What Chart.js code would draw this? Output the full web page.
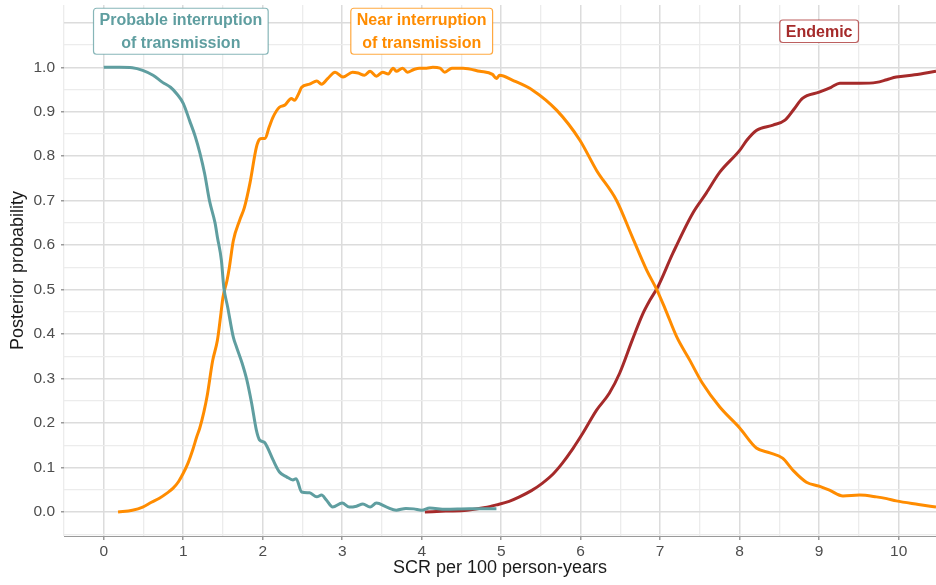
<!DOCTYPE html>
<html>
<head>
<meta charset="utf-8">
<script src="https://cdn.jsdelivr.net/npm/chart.js@4.4.1/dist/chart.umd.min.js"></script>
<style>
  html, body { margin: 0; padding: 0; background: #ffffff; }
  #wrap { width: 936px; height: 585px; }
</style>
</head>
<body>
<div id="wrap"><canvas id="chart"></canvas></div>
<script>
// SCR per 100 person-years vs posterior probability, one pair of arrays per class
const probX = [0, 0.2, 0.36, 0.49, 0.62, 0.74, 0.84, 0.92, 1.0, 1.08, 1.15, 1.21, 1.27, 1.33, 1.4, 1.43, 1.48, 1.51, 1.56, 1.63, 1.67, 1.74, 1.8, 1.86, 1.92, 1.96, 2.02, 2.06, 2.13, 2.21, 2.3, 2.38, 2.42, 2.49, 2.59, 2.68, 2.74, 2.8, 2.88, 3.0, 3.09, 3.18, 3.26, 3.35, 3.43, 3.56, 3.68, 3.8, 3.9, 4.0, 4.1, 4.3, 4.6, 4.94];
const probY = [1.0, 1.0, 0.999, 0.993, 0.982, 0.966, 0.955, 0.94, 0.919, 0.88, 0.845, 0.807, 0.76, 0.7, 0.65, 0.618, 0.566, 0.506, 0.46, 0.393, 0.371, 0.335, 0.297, 0.245, 0.184, 0.162, 0.157, 0.145, 0.117, 0.09, 0.079, 0.072, 0.075, 0.045, 0.043, 0.034, 0.038, 0.027, 0.011, 0.02, 0.011, 0.013, 0.018, 0.011, 0.02, 0.011, 0.004, 0.008, 0.007, 0.004, 0.009, 0.006, 0.007, 0.007];

const nearX = [0.18, 0.36, 0.49, 0.6, 0.7, 0.8, 0.87, 0.94, 1.0, 1.06, 1.12, 1.17, 1.21, 1.26, 1.3, 1.37, 1.43, 1.47, 1.5, 1.55, 1.58, 1.63, 1.71, 1.77, 1.84, 1.92, 1.96, 1.99, 2.03, 2.08, 2.13, 2.21, 2.28, 2.36, 2.4, 2.45, 2.49, 2.59, 2.68, 2.74, 2.82, 2.91, 3.01, 3.13, 3.2, 3.28, 3.35, 3.43, 3.51, 3.58, 3.64, 3.68, 3.76, 3.82, 3.9, 3.97, 4.06, 4.14, 4.23, 4.29, 4.38, 4.52, 4.73, 4.89, 4.94, 4.98, 5.14, 5.4, 5.7, 5.99, 6.2, 6.45, 6.65, 6.83, 6.96, 7.06, 7.21, 7.37, 7.53, 7.75, 8.0, 8.21, 8.38, 8.54, 8.67, 8.84, 9.0, 9.13, 9.3, 9.51, 9.72, 9.85, 9.97, 10.25, 10.47];
const nearY = [0.0, 0.004, 0.011, 0.022, 0.031, 0.043, 0.053, 0.068, 0.087, 0.11, 0.14, 0.169, 0.19, 0.225, 0.26, 0.34, 0.386, 0.44, 0.483, 0.52, 0.55, 0.61, 0.656, 0.685, 0.74, 0.82, 0.838, 0.84, 0.84, 0.865, 0.888, 0.91, 0.915, 0.93, 0.926, 0.94, 0.955, 0.962, 0.969, 0.962, 0.975, 0.989, 0.978, 0.989, 0.987, 0.982, 0.991, 0.98, 0.989, 0.985, 0.998, 0.991, 0.998, 0.989, 0.995, 0.998, 0.998, 1.0, 0.998, 0.989, 0.998, 0.998, 0.991, 0.984, 0.975, 0.982, 0.971, 0.948, 0.903, 0.836, 0.768, 0.701, 0.618, 0.544, 0.499, 0.458, 0.393, 0.342, 0.29, 0.236, 0.189, 0.144, 0.133, 0.121, 0.094, 0.067, 0.058, 0.049, 0.036, 0.038, 0.034, 0.03, 0.025, 0.017, 0.011];

const endX = [4.04, 4.3, 4.57, 4.8, 4.94, 5.1, 5.23, 5.38, 5.52, 5.65, 5.77, 5.9, 6.03, 6.2, 6.36, 6.49, 6.65, 6.78, 6.87, 6.97, 7.16, 7.41, 7.58, 7.75, 8.0, 8.09, 8.21, 8.42, 8.57, 8.68, 8.79, 9.0, 9.15, 9.26, 9.51, 9.72, 9.85, 9.97, 10.2, 10.47];
const endY = [0.0, 0.002, 0.004, 0.01, 0.016, 0.024, 0.034, 0.048, 0.065, 0.085, 0.11, 0.142, 0.178, 0.229, 0.267, 0.312, 0.387, 0.445, 0.476, 0.506, 0.582, 0.672, 0.717, 0.764, 0.813, 0.836, 0.858, 0.87, 0.881, 0.905, 0.93, 0.944, 0.955, 0.964, 0.964, 0.966, 0.972, 0.978, 0.983, 0.991];

// label boxes: text lines, data-space anchor, colour
const classLabels = [
  { lines: ["Probable interruption", "of transmission"], x: 0.97, y: 1.081, color: "#5f9ea0" },
  { lines: ["Near interruption", "of transmission"], x: 4.0, y: 1.081, color: "#ff8c00" },
  { lines: ["Endemic"], x: 9.0, y: 1.081, color: "#a52a2a" },
];

const FONT = "'Liberation Sans', Arial, sans-serif";

function toPoints(xs, ys) {
  return xs.map((x, i) => ({ x: x, y: ys[i] }));
}

function isStep(v, step) {
  return Math.abs(v / step - Math.round(v / step)) < 1e-6;
}

//draws the three boxed class labels on top of the plot
const labelPlugin = {
  id: "classLabels",
  afterDatasetsDraw(chart) {
    const { ctx, scales } = chart;
    ctx.save();
    ctx.font = "bold 16px " + FONT;
    ctx.textAlign = "center";
    ctx.textBaseline = "middle";
    classLabels.forEach((lab) => {
      const cx = scales.x.getPixelForValue(lab.x);
      const cy = scales.y.getPixelForValue(lab.y);
      const lineH = 23.5;
      const w = Math.max(...lab.lines.map((t) => ctx.measureText(t).width)) + 12;
      const h = lab.lines.length * lineH - 1;
      const left = cx - w / 2;
      const top = cy - h / 2;
      ctx.fillStyle = "#ffffff";
      ctx.strokeStyle = lab.color;
      ctx.beginPath();
      ctx.roundRect(left, top, w, h, 3);
      ctx.fill();
      ctx.globalAlpha = 0.75;
      ctx.lineWidth = 1.2;
      ctx.stroke();
      ctx.globalAlpha = 1;
      ctx.fillStyle = lab.color;
      lab.lines.forEach((t, i) => {
        ctx.fillText(t, cx, top + lineH / 2 + i * lineH + 0.5);
      });
    });
    ctx.restore();
  },
};

const ctx = document.getElementById("chart");
new Chart(ctx, {
  type: "line",
  data: {
    datasets: [
      {
        label: "Probable interruption of transmission",
        data: toPoints(probX, probY),
        borderColor: "#5f9ea0",
      },
      {
        label: "Near interruption of transmission",
        data: toPoints(nearX, nearY),
        borderColor: "#ff8c00",
      },
      {
        label: "Endemic",
        data: toPoints(endX, endY),
        borderColor: "#a52a2a",
      },
    ],
  },
  options: {
    responsive: true,
    maintainAspectRatio: false,
    animation: false,
    parsing: false,
    layout: { padding: { top: 5, right: 0, left: 0, bottom: 0 } },
    elements: {
      point: { radius: 0 },
      line: { borderWidth: 3, cubicInterpolationMode: "monotone", fill: false },
    },
    plugins: {
      legend: { display: false },
      tooltip: { enabled: false },
    },
    scales: {
      x: {
        type: "linear",
        min: -0.5,
        max: 10.47,
        afterFit: (scale) => {
          scale.height = 49;
          scale.paddingRight = 0;
        },
        border: { display: true, color: "#9a9a9a", width: 1 },
        grid: {
          drawTicks: true,
          tickLength: 4,
          tickColor: (c) => (c.tick && isStep(c.tick.value, 1) ? "#9a9a9a" : "rgba(0,0,0,0)"),
          color: (c) => (c.tick && isStep(c.tick.value, 1) ? "#dcdcdc" : "#ececec"),
          lineWidth: (c) => (c.tick && isStep(c.tick.value, 1) ? 1.5 : 1.3),
        },
        ticks: {
          stepSize: 0.5,
          includeBounds: false,
          autoSkip: false,
          maxRotation: 0,
          padding: 2,
          color: "#4d4d4d",
          font: { family: FONT, size: 15.5 },
          callback: (v) => (isStep(v, 1) ? String(Math.round(v)) : ""),
        },
        title: {
          display: true,
          text: "SCR per 100 person-years",
          color: "#1a1a1a",
          font: { family: FONT, size: 18 },
          padding: { top: 0, bottom: 6 },
        },
      },
      y: {
        type: "linear",
        min: -0.054,
        max: 1.14,
        afterFit: (scale) => {
          scale.width = 64;
          scale.paddingTop = 0;
          scale.paddingBottom = 0;
        },
        border: { display: false },
        grid: {
          drawTicks: true,
          tickLength: 3,
          tickColor: (c) => (c.tick && isStep(c.tick.value, 0.1) && c.tick.value < 1.01 ? "#9a9a9a" : "rgba(0,0,0,0)"),
          color: (c) => (c.tick && isStep(c.tick.value, 0.1) ? "#dcdcdc" : "#ececec"),
          lineWidth: (c) => (c.tick && isStep(c.tick.value, 0.1) ? 1.5 : 1.3),
        },
        ticks: {
          stepSize: 0.05,
          includeBounds: false,
          autoSkip: false,
          padding: 6,
          color: "#4d4d4d",
          font: { family: FONT, size: 15.5 },
          callback: (v) => (isStep(v, 0.1) && v < 1.01 ? v.toFixed(1) : ""),
        },
        title: {
          display: true,
          text: "Posterior probability",
          color: "#1a1a1a",
          font: { family: FONT, size: 18 },
          padding: { top: 7, bottom: 0 },
        },
      },
    },
  },
  plugins: [labelPlugin],
});
</script>
</body>
</html>
